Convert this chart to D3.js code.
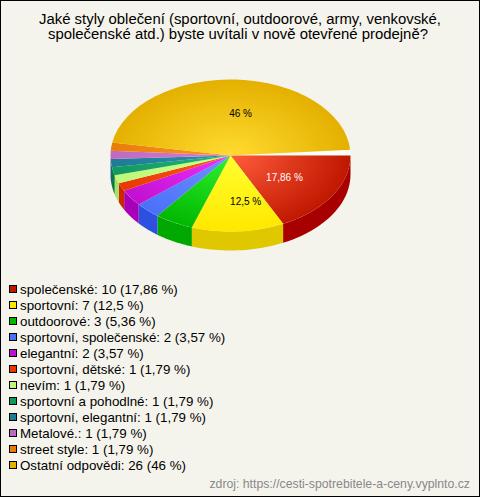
<!DOCTYPE html>
<html><head><meta charset="utf-8">
<script src="https://cdn.jsdelivr.net/npm/d3@7/dist/d3.min.js"></script>
<style>html,body{margin:0;padding:0;background:#fff}svg{display:block}text{font-family:"Liberation Sans",Arial,sans-serif}</style>
</head><body><div id="c"></div>
<script>
const categories=["společenské","sportovní","outdoorové","sportovní, společenské","elegantní","sportovní, dětské","nevím","sportovní a pohodlné","sportovní, elegantní","Metalové.","street style","Ostatní odpovědi"];
const counts=[10,7,3,2,2,1,1,1,1,1,1,26];
const percents=[17.86,12.5,5.36,3.57,3.57,1.79,1.79,1.79,1.79,1.79,1.79,46];
const pctLabels=["17,86","12,5","5,36","3,57","3,57","1,79","1,79","1,79","1,79","1,79","1,79","46"];
const titleLines=["Jaké styly oblečení (sportovní, outdoorové, army, venkovské,","společenské atd.) byste uvítali v nově otevřené prodejně?"];
const sourceText="zdroj: https://cesti-spotrebitele-a-ceny.vyplnto.cz";
const colorInner=["#ff5c3c","#ffff30","#30f030","#6c94ff","#ee30ff","#ff5a20","#ccff88","#20b878","#3090a8","#d080d8","#ff9a20","#ffdc30"];
const colorOuter=["#c01800","#ffe800","#00b800","#4a70f8","#c010d0","#e83800","#c0f878","#109860","#1c7c94","#c068c4","#e87c08","#e4b000"];
const colorSide=["#a80000","#e0c800","#00a800","#2c50e0","#a800b8","#cc2800","#a8e060","#0c7848","#105c74","#a04ca8","#c86000","#c09000"];
const legendFill=["#c01800","#ffe800","#00b800","#4a70f8","#c010d0","#e83800","#c0f878","#109860","#1c7c94","#c068c4","#e87c08","#e4b000"];
const labelColors=new Map([[0,"#fff"],[1,"#000"],[11,"#000"]]);

const W=480,H=497,cx=230.5,cy=155.5,rx=120,ry=76,depth=19;
const svg=d3.select("#c").append("svg").attr("width",W).attr("height",H);
svg.append("rect").attr("x",.5).attr("y",.5).attr("width",W-1).attr("height",H-1).attr("fill","#f5f4ec").attr("stroke","#000");

svg.append("g").selectAll("text").data(titleLines).join("text")
 .attr("x",(d,i)=>240-i*2).attr("y",(d,i)=>24+i*14.5).attr("text-anchor","middle").attr("font-size",14.9).attr("fill","#000").text(d=>d);

const defs=svg.append("defs");
categories.forEach((c,i)=>{
 const g=defs.append("radialGradient").attr("id","g"+i).attr("gradientUnits","userSpaceOnUse").attr("cx",0).attr("cy",0).attr("r",rx);
 g.append("stop").attr("offset",0).attr("stop-color",colorInner[i]);
 g.append("stop").attr("offset",1).attr("stop-color",colorOuter[i]);
});

// cumulative percent -> screen angle (the reference's tilted projection leaves a thin wedge before the red slice)
const deg=Math.PI/180;
const cum=d3.cumsum(percents);
const angle=d3.scaleLinear().domain([0,cum[1],cum[10],cum[11]]).range([90*deg,(90+108.8)*deg,(90+189.8)*deg,(90+355.6)*deg]);
const arcs=percents.map((v,i)=>({index:i,value:v,startAngle:angle(cum[i]-v),endAngle:angle(cum[i])}));
const arc=d3.arc().innerRadius(0).outerRadius(rx);

const chart=svg.append("g").attr("transform",`translate(${cx},${cy})`);
const sideLine=d3.line();
arcs.forEach((a,i)=>{
 const lo=Math.max(a.startAngle,Math.PI/2), hi=Math.min(a.endAngle,3*Math.PI/2);
 if(hi<=lo) return;
 const n=24, ang=d3.range(n+1).map(k=>lo+(hi-lo)*k/n);
 const px=t=>rx*Math.sin(t), py=t=>-ry*Math.cos(t);
 const pts=ang.map(t=>[px(t),py(t)]).concat(ang.slice().reverse().map(t=>[px(t),py(t)+depth]));
 chart.append("path").attr("d",sideLine(pts)+"Z").attr("fill",colorSide[i]);
});
const topFace=chart.append("g").attr("transform",`scale(1,${ry/rx})`);
topFace.append("path").attr("d",d3.arc().innerRadius(0).outerRadius(rx).startAngle(angle(cum[11])).endAngle(450*deg)()).attr("fill","#fcfcf8");
topFace.selectAll("path.s").data(arcs).join("path").attr("class","s").attr("d",arc).attr("fill",(d,i)=>`url(#g${i})`);

const labelShift=new Map([[0,[-2,0]],[1,[11,4]],[11,[7,0]]]);
chart.selectAll("text").data(arcs.filter((d,i)=>labelColors.has(i))).join("text")
 .attr("x",d=>{const m=(d.startAngle+d.endAngle)/2;return rx*.55*Math.sin(m)+labelShift.get(d.index)[0]})
 .attr("y",d=>{const m=(d.startAngle+d.endAngle)/2;return -ry*.55*Math.cos(m)+labelShift.get(d.index)[1]+3.5})
 .attr("text-anchor","middle").attr("font-size",10).attr("fill",d=>labelColors.get(d.index))
 .text(d=>pctLabels[d.index]+" %");

const ly=d3.scalePoint().domain(d3.range(categories.length)).range([289,465]);
const leg=svg.append("g").selectAll("g").data(categories).join("g").attr("transform",(d,i)=>`translate(0,${ly(i)})`);
leg.append("rect").attr("x",9.5).attr("y",-3.5).attr("width",7).attr("height",7).attr("stroke","#000").attr("fill",(d,i)=>legendFill[i]);
leg.append("text").attr("x",20).attr("y",4.5).attr("font-size",13.33).attr("fill","#000")
 .text((d,i)=>`${d}: ${counts[i]} (${pctLabels[i]} %)`);

svg.append("text").attr("x",470).attr("y",488).attr("text-anchor","end").attr("font-size",12.25).attr("fill","#888").text(sourceText);
</script></body></html>
